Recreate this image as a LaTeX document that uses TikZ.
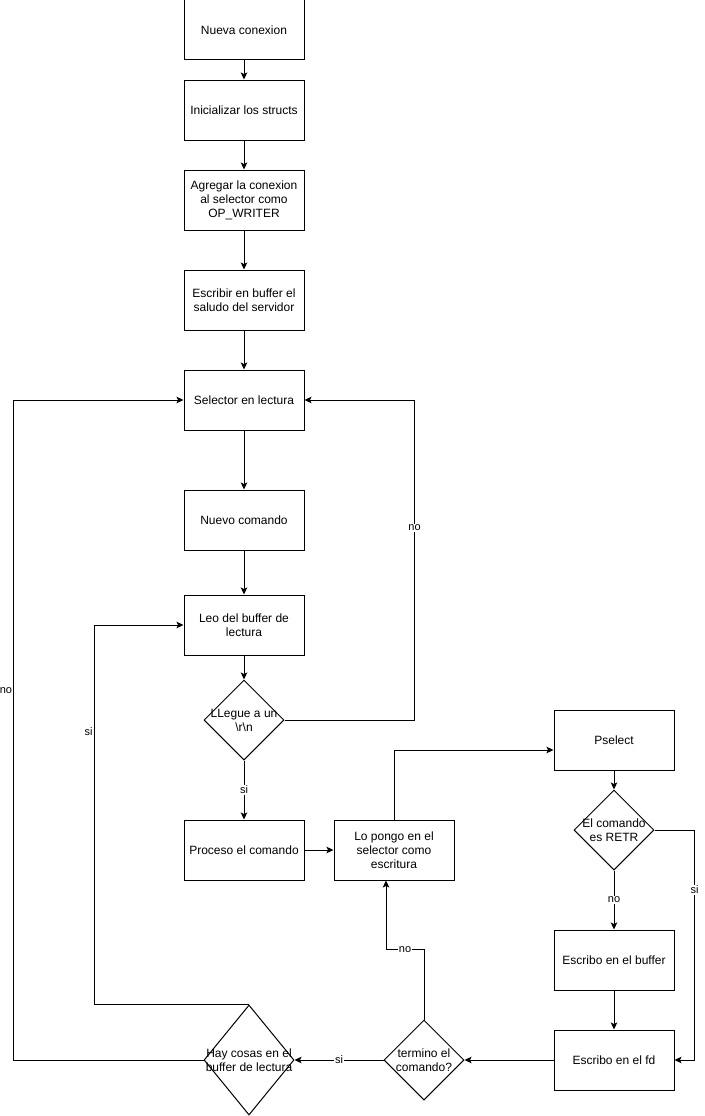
\documentclass[tikz,border=0pt]{standalone}
\usepackage{fontspec}
\setmainfont{Liberation Sans}
\usetikzlibrary{arrows.meta}
\usetikzlibrary{shapes.geometric}

\tikzset{
  Box/.style={draw, line width=1pt, minimum width=120, minimum height=60, align=center, inner sep=2},
  Dec/.style={draw, diamond, line width=1pt, minimum width=80, minimum height=80, inner sep=0},
  Lbl/.style={fill=white, inner sep=1, font=\fontsize{11}{13}\selectfont},
  Flow/.style={->, >={Stealth[length=7pt, width=6.5pt, inset=1.5pt]}, line width=1pt}
}

\begin{document}
\begin{tikzpicture}[x=1pt, y=-1pt, font=\fontsize{12}{14}\selectfont]
\useasboundingbox (0,0) rectangle (704,1116);
% columna principal
\node[Box] (nueva) at (244,30) {Nueva conexion};
\node[Box] (init) at (244,110) {Inicializar los structs};
\node[Box] (agrega) at (244,200) {Agregar la conexion\\al selector como\\OP\_WRITER};
\node[Box] (saludo) at (244,300) {Escribir en buffer el\\saludo del servidor};
\node[Box] (sel) at (244,400) {Selector en lectura};
\node[Box] (nuevo) at (244,520) {Nuevo comando};
\node[Box] (leo) at (244,625) {Leo del buffer de\\lectura};
\node[Dec, label={[align=center]center:LLegue a un\\\textbackslash r\textbackslash n}] (llegue) at (244,720) {};
\node[Box] (proceso) at (244,850) {Proceso el comando};
\node[Box] (pongo) at (394,850) {Lo pongo en el\\selector como\\escritura};
% columna derecha
\node[Box] (psel) at (614,740) {Pselect};
\node[Dec, label={[align=center]center:El comando\\es RETR}] (retr) at (614,830) {};
\node[Box] (escbuf) at (614,960) {Escribo en el buffer};
\node[Box] (escfd) at (614,1060) {Escribo en el fd};
\node[Dec, label={[align=center]center:termino el\\comando?}] (termino) at (424,1060) {};
\node[Dec, minimum width=90, minimum height=110, label={[align=center]center:Hay cosas en el\\buffer de lectura}] (hay) at (249,1060) {};

\draw[Flow] (nueva) -- (init);
\draw[Flow] (init) -- (agrega);
\draw[Flow] (agrega) -- (saludo);
\draw[Flow] (saludo) -- (sel);
\draw[Flow] (sel) -- (nuevo);
\draw[Flow] (nuevo) -- (leo);
\draw[Flow] (leo) -- (llegue);
\draw[Flow] (llegue) -- node[Lbl] {si} (proceso);
\draw[Flow] (llegue.east) -- ++(130,0) |- node[Lbl, pos=0.3] {no} (sel.east);
\draw[Flow] (proceso) -- (pongo);
\draw[Flow] (pongo.north) |- ([yshift=-10pt]psel.west);
\draw[Flow] (psel) -- (retr);
\draw[Flow] (retr) -- node[Lbl] {no} (escbuf);
\draw[Flow] (retr.east) -- ++(40,0) |- node[Lbl, pos=0.13] {si} (escfd.east);
\draw[Flow] (escbuf) -- (escfd);
\draw[Flow] (escfd) -- (termino);
\draw[Flow] (termino) -- node[Lbl] {si} (hay);
\draw[Flow] (termino.north) -- ++(0,-70) -| node[Lbl, pos=0.25] {no} ([xshift=-8pt]pongo.south);
\draw[Flow] (hay.north) -- ++(-155,0) |- node[pos=0.36, anchor=east, inner sep=1, font=\fontsize{11}{13}\selectfont] {si} (leo.west);
\draw[Flow] (hay.west) -- ++(-190,0) |- node[pos=0.28, anchor=east, inner sep=1, font=\fontsize{11}{13}\selectfont] {no} (sel.west);
\end{tikzpicture}
\end{document}
